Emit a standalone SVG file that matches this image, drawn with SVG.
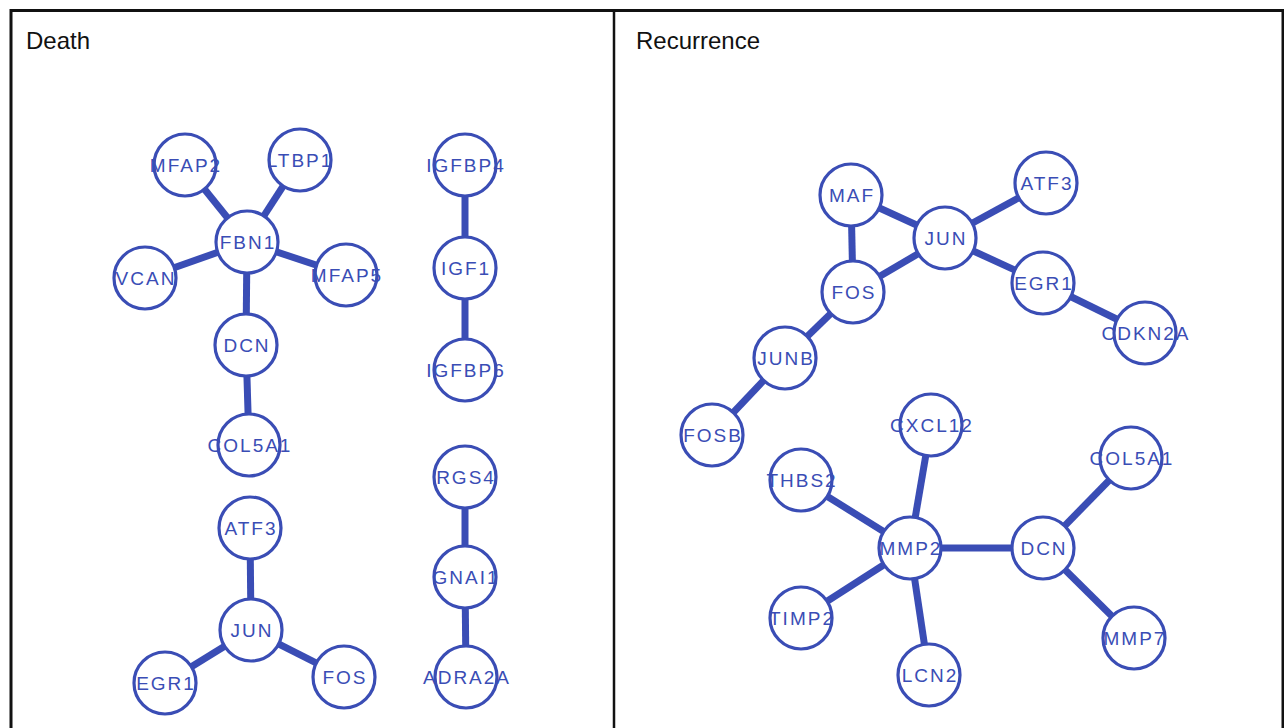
<svg xmlns="http://www.w3.org/2000/svg" width="1284" height="728" viewBox="0 0 1284 728">
<style>
.frame{fill:none;stroke:#111;stroke-width:3}
.title{font-family:"Liberation Sans",Arial,sans-serif;font-size:24px;fill:#111}
.e{stroke:#3a4db5;stroke-width:7;stroke-linecap:butt}
.n circle{fill:#fff;stroke:#3a4db5;stroke-width:3.2}
.n text{font-family:"Liberation Sans",Arial,sans-serif;font-size:19px;fill:#3a4db5;text-anchor:middle;letter-spacing:2px}
</style>
<rect width="1284" height="728" fill="#fff"/>
<rect class="frame" x="11" y="10.5" width="1272" height="730"/>
<line x1="614" y1="10" x2="614" y2="728" stroke="#111" stroke-width="2.5"/>
<text class="title" x="26" y="49">Death</text>
<text class="title" x="636" y="49">Recurrence</text>
<g id="connectors">
<line class="e" x1="185" y1="165" x2="247" y2="242"/>
<line class="e" x1="300" y1="160" x2="247" y2="242"/>
<line class="e" x1="145" y1="278" x2="247" y2="242"/>
<line class="e" x1="346" y1="275" x2="247" y2="242"/>
<line class="e" x1="247" y1="242" x2="246" y2="345"/>
<line class="e" x1="246" y1="345" x2="249" y2="445"/>
<line class="e" x1="465" y1="165" x2="465" y2="268"/>
<line class="e" x1="465" y1="268" x2="465" y2="370"/>
<line class="e" x1="465" y1="477" x2="465" y2="577"/>
<line class="e" x1="465" y1="577" x2="466" y2="677"/>
<line class="e" x1="250" y1="528" x2="251" y2="630"/>
<line class="e" x1="251" y1="630" x2="165" y2="683"/>
<line class="e" x1="251" y1="630" x2="344" y2="677"/>
<line class="e" x1="851" y1="195" x2="945" y2="238"/>
<line class="e" x1="851" y1="195" x2="853" y2="292"/>
<line class="e" x1="853" y1="292" x2="945" y2="238"/>
<line class="e" x1="1046" y1="183" x2="945" y2="238"/>
<line class="e" x1="1043" y1="283" x2="945" y2="238"/>
<line class="e" x1="1043" y1="283" x2="1145" y2="333"/>
<line class="e" x1="853" y1="292" x2="785" y2="358"/>
<line class="e" x1="785" y1="358" x2="712" y2="435"/>
<line class="e" x1="931" y1="425" x2="910" y2="548"/>
<line class="e" x1="801" y1="480" x2="910" y2="548"/>
<line class="e" x1="801" y1="618" x2="910" y2="548"/>
<line class="e" x1="929" y1="675" x2="910" y2="548"/>
<line class="e" x1="1043" y1="548" x2="910" y2="548"/>
<line class="e" x1="1043" y1="548" x2="1131" y2="458"/>
<line class="e" x1="1043" y1="548" x2="1134" y2="638"/>
</g>
<g id="d-MFAP2" class="n"><circle cx="185" cy="165" r="31"/><text x="186" y="172">MFAP2</text></g>
<g id="d-LTBP1" class="n"><circle cx="300" cy="160" r="31"/><text x="300" y="167">LTBP1</text></g>
<g id="d-FBN1" class="n"><circle cx="247" cy="242" r="31"/><text x="248" y="249">FBN1</text></g>
<g id="d-VCAN" class="n"><circle cx="145" cy="278" r="31"/><text x="146" y="285">VCAN</text></g>
<g id="d-MFAP5" class="n"><circle cx="346" cy="275" r="31"/><text x="347" y="282">MFAP5</text></g>
<g id="d-DCN" class="n"><circle cx="246" cy="345" r="31"/><text x="247" y="352">DCN</text></g>
<g id="d-COL5A1" class="n"><circle cx="249" cy="445" r="31"/><text x="250" y="452">COL5A1</text></g>
<g id="d-IGFBP4" class="n"><circle cx="465" cy="165" r="31"/><text x="466" y="172">IGFBP4</text></g>
<g id="d-IGF1" class="n"><circle cx="465" cy="268" r="31"/><text x="466" y="275">IGF1</text></g>
<g id="d-IGFBP6" class="n"><circle cx="465" cy="370" r="31"/><text x="466" y="377">IGFBP6</text></g>
<g id="d-RGS4" class="n"><circle cx="465" cy="477" r="31"/><text x="466" y="484">RGS4</text></g>
<g id="d-GNAI1" class="n"><circle cx="465" cy="577" r="31"/><text x="466" y="584">GNAI1</text></g>
<g id="d-ADRA2A" class="n"><circle cx="466" cy="677" r="31"/><text x="467" y="684">ADRA2A</text></g>
<g id="d-ATF3" class="n"><circle cx="250" cy="528" r="31"/><text x="251" y="535">ATF3</text></g>
<g id="d-JUN" class="n"><circle cx="251" cy="630" r="31"/><text x="252" y="637">JUN</text></g>
<g id="d-EGR1" class="n"><circle cx="165" cy="683" r="31"/><text x="166" y="690">EGR1</text></g>
<g id="d-FOS" class="n"><circle cx="344" cy="677" r="31"/><text x="345" y="684">FOS</text></g>
<g id="r-MAF" class="n"><circle cx="851" cy="195" r="31"/><text x="852" y="202">MAF</text></g>
<g id="r-ATF3" class="n"><circle cx="1046" cy="183" r="31"/><text x="1047" y="190">ATF3</text></g>
<g id="r-JUN" class="n"><circle cx="945" cy="238" r="31"/><text x="946" y="245">JUN</text></g>
<g id="r-FOS" class="n"><circle cx="853" cy="292" r="31"/><text x="854" y="299">FOS</text></g>
<g id="r-EGR1" class="n"><circle cx="1043" cy="283" r="31"/><text x="1044" y="290">EGR1</text></g>
<g id="r-CDKN2A" class="n"><circle cx="1145" cy="333" r="31"/><text x="1146" y="340">CDKN2A</text></g>
<g id="r-JUNB" class="n"><circle cx="785" cy="358" r="31"/><text x="786" y="365">JUNB</text></g>
<g id="r-FOSB" class="n"><circle cx="712" cy="435" r="31"/><text x="713" y="442">FOSB</text></g>
<g id="r-CXCL12" class="n"><circle cx="931" cy="425" r="31"/><text x="932" y="432">CXCL12</text></g>
<g id="r-COL5A1" class="n"><circle cx="1131" cy="458" r="31"/><text x="1132" y="465">COL5A1</text></g>
<g id="r-THBS2" class="n"><circle cx="801" cy="480" r="31"/><text x="802" y="487">THBS2</text></g>
<g id="r-MMP2" class="n"><circle cx="910" cy="548" r="31"/><text x="911" y="555">MMP2</text></g>
<g id="r-DCN" class="n"><circle cx="1043" cy="548" r="31"/><text x="1044" y="555">DCN</text></g>
<g id="r-TIMP2" class="n"><circle cx="801" cy="618" r="31"/><text x="802" y="625">TIMP2</text></g>
<g id="r-MMP7" class="n"><circle cx="1134" cy="638" r="31"/><text x="1135" y="645">MMP7</text></g>
<g id="r-LCN2" class="n"><circle cx="929" cy="675" r="31"/><text x="930" y="682">LCN2</text></g>
</svg>
